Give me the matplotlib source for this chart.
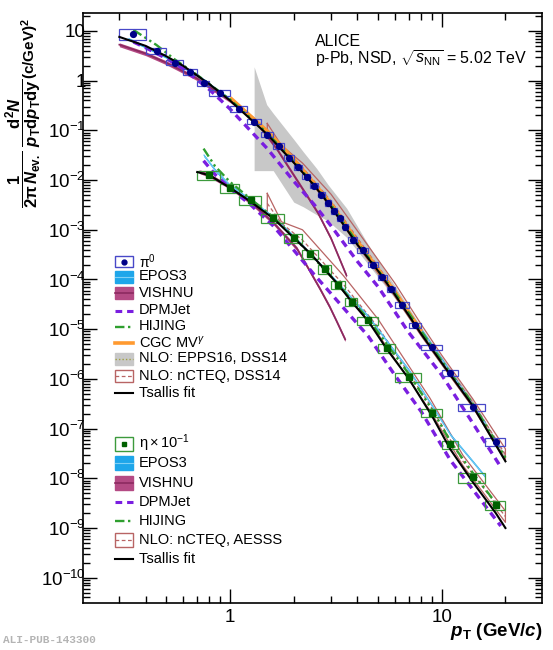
import numpy as np
import matplotlib
matplotlib.use('Agg')
import matplotlib.pyplot as plt
from matplotlib.patches import Rectangle
from matplotlib.lines import Line2D
from matplotlib.ticker import FixedLocator, FixedFormatter, NullFormatter

plt.rcParams['font.family'] = ['Liberation Sans', 'DejaVu Sans']
plt.rcParams['mathtext.fontset'] = 'custom'
plt.rcParams['mathtext.rm'] = 'Liberation Sans'
plt.rcParams['mathtext.it'] = 'Liberation Sans:italic'
plt.rcParams['mathtext.bf'] = 'Liberation Sans:bold'
plt.rcParams['mathtext.bfit'] = 'Liberation Sans:italic:bold'
plt.rcParams['mathtext.sf'] = 'Liberation Sans'

# ---------------- data: pi0 ----------------
pi0_edges = [0.3, 0.4, 0.5, 0.6, 0.7, 0.8, 1.0, 1.2, 1.4, 1.6, 1.8, 2.0, 2.2, 2.4, 2.6, 2.8,
             3.0, 3.2, 3.4, 3.6, 4.0, 4.5, 5.0, 5.5, 6.0, 7.0, 8.0, 10.0, 12.0, 16.0, 20.0]
pi0_pt = [0.35, 0.45, 0.55, 0.65, 0.75, 0.9, 1.1, 1.3, 1.5, 1.7, 1.9, 2.1, 2.3, 2.5, 2.7, 2.9,
          3.1, 3.3, 3.5, 3.8, 4.25, 4.75, 5.25, 5.75, 6.5, 7.5, 9.0, 11.0, 14.0, 18.0]
pi0_y = [8.8, 4.0, 2.3, 1.5, 0.9, 0.57, 0.27, 0.15, 0.082, 0.049, 0.028, 0.018, 0.0118, 0.0077,
         0.0051, 0.0035, 0.0024, 0.0017, 0.00115, 6.3e-4, 3.9e-4, 2.0e-4, 1.1e-4, 6.3e-5,
         3.1e-5, 1.2e-5, 4.3e-6, 1.3e-6, 2.7e-7, 5.4e-8]
pi0_sys = [0.25, 0.15, 0.12, 0.12, 0.12, 0.12, 0.12, 0.12, 0.12, 0.12, 0.12, 0.12, 0.12, 0.12,
           0.12, 0.12, 0.12, 0.12, 0.12, 0.12, 0.12, 0.12, 0.12, 0.12, 0.12, 0.12, 0.12,
           0.14, 0.18, 0.18]

# ---------------- data: eta (x 0.1) ----------------
eta_edges = [0.7, 0.9, 1.1, 1.4, 1.8, 2.2, 2.6, 3.0, 3.5, 4.0, 5.0, 6.0, 8.0, 10.0, 12.0, 16.0, 20.0]
eta_pt = [0.8, 1.0, 1.25, 1.6, 2.0, 2.4, 2.8, 3.25, 3.75, 4.5, 5.5, 7.0, 9.0, 11.0, 14.0, 18.0]
eta_y = [0.0128, 0.0068, 0.0039, 0.0017, 6.9e-4, 3.3e-4, 1.6e-4, 7.9e-5, 3.6e-5, 1.5e-5,
         4.2e-6, 1.1e-6, 2.1e-7, 4.8e-8, 1.05e-8, 2.9e-9]
eta_sys = [0.2, 0.2, 0.2, 0.2, 0.2, 0.2, 0.2, 0.2, 0.2, 0.2, 0.2, 0.2, 0.2, 0.2, 0.22, 0.22]

# ---------------- models: pi0 ----------------
ts_pi0_pt = [0.3, 0.4, 0.5, 0.6, 0.8, 1.0, 1.5, 2.0, 2.5, 3.0, 4.0, 5.0, 6.0, 8.0, 10.0, 14.0, 20.0]
ts_pi0_y = [7.6, 5.0, 3.1, 2.0, 0.85, 0.40, 0.083, 0.0225, 0.0078, 0.0029, 5.0e-4, 1.5e-4,
            5.0e-5, 8.0e-6, 2.1e-6, 2.9e-7, 2.2e-8]

epos_pi0_pt = [0.33, 0.4, 0.5, 0.7, 1.0, 1.5, 2.0, 3.0, 4.0, 6.0, 10.0, 16.0]
epos_pi0_y = [7.0, 4.8, 3.0, 1.3, 0.42, 0.088, 0.024, 0.0032, 5.6e-4, 5.8e-5, 2.5e-6, 1.3e-7]

vish_pi0_pt = [0.3, 0.4, 0.5, 0.7, 1.0, 1.3, 1.66, 2.0, 2.3, 2.6, 3.0, 3.55]
vish_pi0_y = [5.3, 3.5, 2.3, 1.1, 0.40, 0.17, 0.043, 0.0126, 5.0e-3, 2.2e-3, 6.7e-4, 1.2e-4]

dpm_pi0_pt = [0.35, 0.4, 0.5, 0.6, 0.8, 1.0, 1.5, 2.0, 2.5, 3.0, 4.0, 5.0, 7.0, 10.0, 14.0, 19.0]
dpm_pi0_y = [6.0, 4.6, 2.8, 1.75, 0.66, 0.27, 0.043, 0.0095, 0.0032, 0.0012, 2.3e-4, 7.2e-5,
             8.5e-6, 1.2e-6, 1.3e-7, 1.7e-8]

hij_pi0_pt = [0.35, 0.45, 0.55, 0.7, 1.0, 1.5, 2.0, 3.0, 4.0, 6.0, 10.0, 14.0, 20.0]
hij_pi0_y = [10.5, 5.2, 2.65, 1.3, 0.42, 0.088, 0.024, 3.2e-3, 5.5e-4, 5.5e-5, 2.3e-6, 3.2e-7, 2.6e-8]

cgc_pi0_pt = [1.0, 1.5, 2.0, 3.0, 4.0, 6.0, 8.0]
cgc_pi0_y = [0.45, 0.095, 0.026, 3.3e-3, 5.7e-4, 5.6e-5, 9.0e-6]

epps_pt = [1.3, 1.49, 1.6, 2.0, 2.22, 2.57, 2.91, 3.56, 4.5, 6.0, 8.0, 10.0, 14.0, 20.0]
epps_hi = [1.9, 0.33, 0.22, 0.066, 0.037, 0.017, 8.0e-3, 2.7e-3, 5.0e-4, 7.5e-5, 1.1e-5,
           2.8e-6, 3.8e-7, 2.9e-8]
epps_mid = [0.17, 0.09, 0.068, 0.024, 0.0155, 0.0073, 0.0038, 1.2e-3, 2.8e-4, 5.5e-5, 8.8e-6,
            2.3e-6, 3.2e-7, 2.4e-8]
epps_lo = [0.0155, 0.0155, 0.0155, 3.6e-3, 2.9e-3, 2.0e-3, 1.5e-3, 7.0e-4, 2.0e-4, 4.2e-5,
           7.0e-6, 1.85e-6, 2.6e-7, 2.0e-8]

ncteq_pi0_pt = [1.5, 1.75, 2.2, 3.0, 4.0, 6.0, 8.0, 10.0, 14.0, 20.0]
ncteq_pi0_hi = [0.138, 0.050, 0.022, 5.2e-3, 9.5e-4, 8.5e-5, 1.25e-5, 3.0e-6, 4.0e-7, 3.9e-8]
ncteq_pi0_mid = [0.105, 0.046, 0.018, 3.8e-3, 6.8e-4, 6.3e-5, 9.8e-6, 2.5e-6, 3.4e-7, 3.0e-8]
ncteq_pi0_lo = [0.075, 0.040, 0.0145, 2.8e-3, 4.8e-4, 4.6e-5, 7.4e-6, 1.95e-6, 2.7e-7, 2.3e-8]

# ---------------- models: eta ----------------
ts_eta_pt = [0.7, 0.8, 1.0, 1.25, 1.6, 2.0, 2.4, 2.8, 3.25, 3.75, 4.5, 5.5, 7.0, 9.0, 11.0,
             14.0, 18.0, 20.0]
ts_eta_y = [0.0145, 0.0125, 0.0070, 0.0037, 0.0017, 6.9e-4, 3.3e-4, 1.6e-4, 7.8e-5, 3.6e-5,
            1.45e-5, 4.0e-6, 1.0e-6, 1.8e-7, 3.8e-8, 8.5e-9, 2.0e-9, 1.0e-9]

epos_eta_pt = [0.75, 0.85, 1.0, 1.25, 1.6, 2.0, 3.0, 4.5, 7.0, 9.0, 11.0, 14.0, 16.0]
epos_eta_y = [0.032, 0.016, 0.0078, 0.0040, 0.0018, 7.4e-4, 1.2e-4, 1.8e-5, 1.5e-6, 2.9e-7,
              7.5e-8, 2.2e-8, 1.1e-8]

vish_eta_pt = [0.72, 0.8, 1.0, 1.25, 1.6, 2.07, 2.4, 2.66, 2.96, 3.2, 3.5]
vish_eta_y = [0.0148, 0.0125, 0.0072, 0.0036, 0.0014, 4.2e-4, 1.4e-4, 6.5e-5, 2.8e-5, 1.4e-5, 6.2e-6]

dpm_eta_pt = [0.75, 0.85, 1.0, 1.25, 1.6, 2.0, 2.5, 3.0, 4.5, 6.0, 8.0, 11.0, 14.0, 19.0]
dpm_eta_y = [0.0245, 0.013, 0.0068, 0.0032, 0.0012, 3.9e-4, 1.25e-4, 5.2e-5, 7.2e-6, 1.2e-6,
             2.2e-7, 2.3e-8, 6.0e-9, 1.1e-9]

hij_eta_pt = [0.75, 0.85, 1.0, 1.25, 1.6, 2.0, 3.0, 4.5, 7.0, 9.0, 11.0, 14.0, 18.0]
hij_eta_y = [0.043, 0.019, 0.0092, 0.0042, 0.0018, 7.2e-4, 1.15e-4, 1.6e-5, 1.25e-6, 2.4e-7,
             5.5e-8, 1.3e-8, 3.2e-9]

ncteq_eta_pt = [1.5, 1.75, 2.2, 3.43, 5.0, 8.8, 12.6, 20.0]
ncteq_eta_hi = [5.4e-3, 1.45e-3, 1.0e-3, 1.2e-4, 1.6e-5, 4.1e-7, 2.9e-8, 2.2e-9]
ncteq_eta_mid = [3.4e-3, 1.35e-3, 6.2e-4, 8.0e-5, 1.1e-5, 3.0e-7, 2.2e-8, 1.7e-9]
ncteq_eta_lo = [2.2e-3, 1.25e-3, 5.0e-4, 6.0e-5, 8.0e-6, 2.3e-7, 1.8e-8, 1.3e-9]

y_major = [1e-10, 1e-9, 1e-8, 1e-7, 1e-6, 1e-5, 1e-4, 1e-3, 1e-2, 1e-1, 1, 10]
y_labels = [r'$10^{-10}$', r'$10^{-9}$', r'$10^{-8}$', r'$10^{-7}$', r'$10^{-6}$', r'$10^{-5}$',
            r'$10^{-4}$', r'$10^{-3}$', r'$10^{-2}$', r'$10^{-1}$', '1', '10']

# ---------------- styles ----------------
c_pi0_box, c_pi0_pt = '#4848c8', '#000088'
c_eta_box, c_eta_pt = '#3c9a3c', '#006000'
c_epos, c_epos_line = '#1ea6ea', '#7fd0f6'
c_vish, c_vish_line = '#b44a84', '#8c2a60'
c_dpm = '#7a1ee0'
c_hij = '#2f9f2f'
c_cgc = '#ff9a30'
c_gray, c_epps_line = '#c8c8c8', '#a0a040'
c_brown = '#b86464'
hij_dash = (4, 1.5, 1, 1.5, 1, 1.5)
dpm_dash = (2.2, 1.6)

fig = plt.figure(figsize=(5.53, 6.5), dpi=100)
ax = fig.add_axes([83 / 553, 47 / 650, 459 / 553, 590 / 650])
ax.set_xscale('log')
ax.set_yscale('log')
ax.set_xlim(0.2021, 29.77)
ax.set_ylim(3.1e-11, 23.0)


def band(x, lo, hi, **kw):
    ax.fill_between(x, lo, hi, linewidth=0, **kw)


def outline(x, lo, hi, color, z):
    xs = list(x) + list(x[::-1]) + [x[0]]
    ys = list(hi) + list(lo[::-1]) + [hi[0]]
    ax.plot(xs, ys, color=color, lw=0.9, zorder=z)


# NLO EPPS16 (grey band)
band(epps_pt, epps_lo, epps_hi, color=c_gray, zorder=1)
ax.plot(epps_pt, epps_mid, color=c_epps_line, lw=1.0, ls=(0, (1, 1.5)), zorder=1.5)

# NLO nCTEQ (outlined brown bands)
outline(ncteq_pi0_pt, ncteq_pi0_lo, ncteq_pi0_hi, c_brown, 2)
ax.plot(ncteq_pi0_pt, ncteq_pi0_mid, color=c_brown, lw=0.9, ls=(0, (3, 2)), zorder=2)
outline(ncteq_eta_pt, ncteq_eta_lo, ncteq_eta_hi, c_brown, 2)
ax.plot(ncteq_eta_pt, ncteq_eta_mid, color=c_brown, lw=0.9, ls=(0, (3, 2)), zorder=2)

# band half widths (style only)
wv, we = 0.09, 0.06
for xs, ys in [(vish_pi0_pt, vish_pi0_y), (vish_eta_pt, vish_eta_y)]:
    yv = np.array(ys)
    band(xs, yv * (1 - wv), yv * (1 + wv), color=c_vish, zorder=3)
    ax.plot(xs, yv, color=c_vish_line, lw=1.2, zorder=3.1)
for xs, ys in [(epos_pi0_pt, epos_pi0_y), (epos_eta_pt, epos_eta_y)]:
    yv = np.array(ys)
    band(xs, yv * (1 - we), yv * (1 + we), color=c_epos, zorder=3)
    ax.plot(xs, yv, color=c_epos_line, lw=0.6, zorder=3.1)

ax.plot(cgc_pi0_pt, cgc_pi0_y, color=c_cgc, lw=3.0, zorder=3.2, solid_capstyle='butt')

for xs, ys in [(hij_pi0_pt, hij_pi0_y), (hij_eta_pt, hij_eta_y)]:
    ax.plot(xs, ys, color=c_hij, lw=1.7, ls=(0, hij_dash), zorder=4)
for xs, ys in [(dpm_pi0_pt, dpm_pi0_y), (dpm_eta_pt, dpm_eta_y)]:
    ax.plot(xs, ys, color=c_dpm, lw=2.4, ls=(0, dpm_dash), zorder=4)

# systematic boxes
for edges, ys, ss, col in [(pi0_edges, pi0_y, pi0_sys, c_pi0_box), (eta_edges, eta_y, eta_sys, c_eta_box)]:
    for i, y in enumerate(ys):
        ax.add_patch(Rectangle((edges[i], y * (1 - ss[i])), edges[i + 1] - edges[i],
                               y * 2 * ss[i], fill=False, ec=col, lw=0.9, zorder=5))

# Tsallis fits
ax.plot(ts_pi0_pt, ts_pi0_y, color='black', lw=1.5, zorder=6)
ax.plot(ts_eta_pt, ts_eta_y, color='black', lw=1.5, zorder=6)

# data points
ax.plot(pi0_pt, pi0_y, 'o', color=c_pi0_pt, ms=4.2, zorder=7)
ax.plot(eta_pt, eta_y, 's', color=c_eta_pt, ms=3.8, zorder=7)

# axes / ticks
ax.yaxis.set_major_locator(FixedLocator(y_major))
ax.yaxis.set_major_formatter(FixedFormatter(y_labels))
y_minor = [m * 10.0 ** e for e in range(-11, 2) for m in range(2, 10)]
ax.yaxis.set_minor_locator(FixedLocator(y_minor))
ax.yaxis.set_minor_formatter(NullFormatter())
ax.xaxis.set_major_locator(FixedLocator([1, 10]))
ax.xaxis.set_major_formatter(FixedFormatter(['1', '10']))
x_minor = [0.3, 0.4, 0.5, 0.6, 0.7, 0.8, 0.9, 2, 3, 4, 5, 6, 7, 8, 9, 20]
ax.xaxis.set_minor_locator(FixedLocator(x_minor))
ax.xaxis.set_minor_formatter(NullFormatter())
ax.tick_params(which='both', direction='in', top=True, right=True, width=1.0)
ax.tick_params(which='major', length=10, labelsize=13.5)
ax.tick_params(which='minor', length=5)
ax.tick_params(axis='y', pad=-2.0)
ax.tick_params(axis='x', pad=4)
for s in ax.spines.values():
    s.set_linewidth(1.2)

# axis titles
fig.text(24 / 553, 1 - 143 / 650,
         r'$\dfrac{\mathbf{1}}{\mathbf{2\pi}\,\mathbfit{N}_{\mathbf{ev.}}}\ '
         r'\dfrac{\mathbf{d^{2}}\mathbfit{N}}{\mathbfit{p}_{\mathbf{T}}\mathbf{d}\mathbfit{p}_{\mathbf{T}}\mathbf{dy}}$',
         rotation=90, ha='center', va='center', fontsize=12)
fig.text(30 / 553, 1 - 48 / 650, r'(c/GeV)$^{\mathbf{2}}$', rotation=90, ha='center',
         va='center', fontsize=11, fontweight='bold')
fig.text(542 / 553, 1 - 632 / 650, r'$\mathbfit{p}_{\mathbf{T}}$ (GeV/$\mathbfit{c}$)',
         ha='right', va='center', fontsize=13.5, fontweight='bold')
fig.text(3 / 553, 1 - 640 / 650, 'ALI-PUB-143300', ha='left', va='center', fontsize=8,
         family='Liberation Mono', fontweight='bold', color='#b4b4b4')

# overlay in pixel coordinates for legends and labels
ov = fig.add_axes([0, 0, 1, 1], zorder=10)
ov.set_xlim(0, 553)
ov.set_ylim(650, 0)
ov.axis('off')
ov.patch.set_alpha(0)

ov.text(315, 41.5, 'ALICE', fontsize=11.5, va='center', ha='left')
ov.text(315, 59, r'p-Pb, NSD, $\sqrt{s_{\mathrm{NN}}}$ = 5.02 TeV', fontsize=11.5,
        va='center', ha='left')

x0, x1, tx = 115, 133, 139


def leg_box(y, h, fc, ec, line=None, ls='-', lw=1.0, dot=None, dot_m='o'):
    ov.add_patch(Rectangle((x0, y - h / 2), x1 - x0, h, fc=fc, ec=ec, lw=1.0))
    if line is not None:
        ov.add_line(Line2D([x0, x1], [y, y], color=line, ls=ls, lw=lw))
    if dot is not None:
        ov.plot([(x0 + x1) / 2], [y], dot_m, color=dot, ms=3.5)


def leg_line(y, color, ls='-', lw=1.5):
    ov.add_line(Line2D([x0, x1], [y, y], color=color, ls=ls, lw=lw))


leg1_y = [261.5, 276.5, 293, 310.5, 326.5, 343, 358.5, 376, 393]
leg1_txt = [r'$\mathrm{\pi}^{0}$', 'EPOS3', 'VISHNU', 'DPMJet', 'HIJING', r'CGC MV$^{\gamma}$',
            'NLO: EPPS16, DSS14', 'NLO: nCTEQ, DSS14', 'Tsallis fit']
leg1_fs = [10, 10.5, 10.5, 10.5, 10.5, 10.5, 10.5, 10.5, 10.5]
h1 = 12
leg_box(leg1_y[0], h1 - 1, 'white', c_pi0_box, dot=c_pi0_pt)
leg_box(leg1_y[1], h1, c_epos, c_epos, line=c_epos_line, lw=0.8)
leg_box(leg1_y[2], h1, c_vish, c_vish, line=c_vish_line, lw=1.2)
leg_line(leg1_y[3], c_dpm, ls=(0, dpm_dash), lw=2.2)
leg_line(leg1_y[4], c_hij, ls=(0, hij_dash), lw=1.7)
leg_line(leg1_y[5], c_cgc, lw=2.6)
leg_box(leg1_y[6], h1, c_gray, c_gray, line=c_epps_line, ls=(0, (1, 1.5)), lw=1.0)
leg_box(leg1_y[7], h1, 'none', c_brown, line=c_brown, ls=(0, (3, 2)), lw=0.9)
leg_line(leg1_y[8], 'black', lw=1.5)
for y, t, fs in zip(leg1_y, leg1_txt, leg1_fs):
    ov.text(tx, y, t, fontsize=fs, va='center', ha='left')

leg2_y = [443.5, 463, 483, 502, 521, 540, 559]
leg2_txt = [r'$\mathrm{\eta}\times10^{-1}$', 'EPOS3', 'VISHNU', 'DPMJet', 'HIJING',
            'NLO: nCTEQ, AESSS', 'Tsallis fit']
h2 = 14
leg_box(leg2_y[0], h2, 'white', c_eta_box, dot=c_eta_pt, dot_m='s')
leg_box(leg2_y[1], h2, c_epos, c_epos, line=c_epos_line, lw=0.8)
leg_box(leg2_y[2], h2, c_vish, c_vish, line=c_vish_line, lw=1.2)
leg_line(leg2_y[3], c_dpm, ls=(0, dpm_dash), lw=2.2)
leg_line(leg2_y[4], c_hij, ls=(0, hij_dash), lw=1.7)
leg_box(leg2_y[5], h2, 'none', c_brown, line=c_brown, ls=(0, (3, 2)), lw=0.9)
leg_line(leg2_y[6], 'black', lw=1.5)
for y, t in zip(leg2_y, leg2_txt):
    ov.text(tx, y, t, fontsize=10.5, va='center', ha='left')

fig.savefig('out.png', dpi=100)
